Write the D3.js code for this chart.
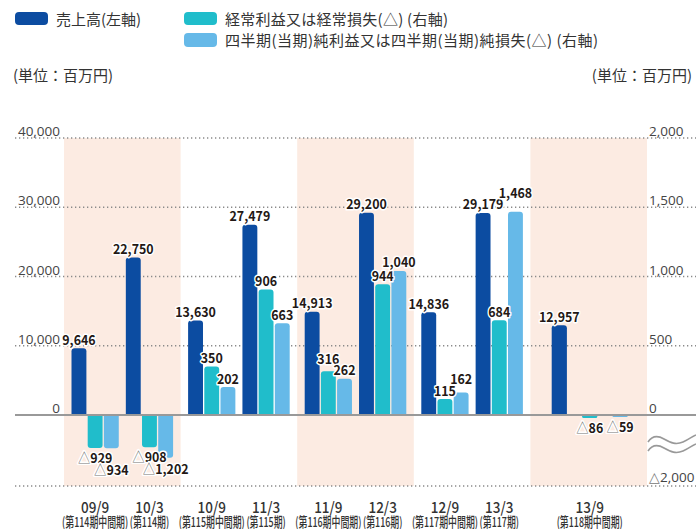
<!DOCTYPE html>
<html>
<head>
<meta charset="utf-8">
<script src="https://cdn.jsdelivr.net/npm/d3@7"></script>
<style>
  body { margin: 0; background: #fff; }
  svg { display: block; font-family: "Noto Sans CJK JP", "Noto Sans", sans-serif; }
</style>
</head>
<body>
<svg width="696" height="529"></svg>
<script>
// data
const periods = ['09/9', '10/3', '10/9', '11/3', '11/9', '12/3', '12/9', '13/3', '13/9']
const terms = ['(第114期中間期)', '(第114期)', '(第115期中間期)', '(第115期)', '(第116期中間期)', '(第116期)', '(第117期中間期)', '(第117期)', '(第118期中間期)']
const fiscalYears = ['114', '114', '115', '115', '116', '116', '117', '117', '118']
const halves = ['H1', 'H2', 'H1', 'H2', 'H1', 'H2', 'H1', 'H2', 'H1']
const shadedYears = ['114', '116', '118']
const sales = [9646, 22750, 13630, 27479, 14913, 29200, 14836, 29179, 12957]
const ordinary = [-929, -908, 350, 906, 316, 944, 115, 684, -86]
const net = [-934, -1202, 202, 663, 262, 1040, 162, 1468, -59]
const leftTicks = [0, 10000, 20000, 30000, 40000]
const rightTicks = [0, 500, 1000, 1500, 2000]
const rightMin = -2000
const seriesKeys = ['sales', 'ordinary', 'net']
const seriesNames = ['売上高(左軸)', '経常利益又は経常損失(△) (右軸)', '四半期(当期)純利益又は四半期(当期)純損失(△) (右軸)']
const colors = {sales: '#0c4ca1', ordinary: '#20bdcb', net: '#66b9e8'}

const svg = d3.select('svg')
const fmt = d3.format(',')
const gridL = 15, gridR = 696

const yL = d3.scaleLinear().domain([0, 40000]).range([415, 138])
const yR = d3.scaleLinear().domain([rightMin, 0, 2000]).range([486, 415, 138])

const x0 = d3.scaleBand().domain(['114', '115', '116', '117', '118']).range([64, 647])
const bw = x0.bandwidth()
const x1 = d3.scaleBand().domain(['H1', 'H2']).range([7.5, bw - 7.5]).paddingInner(0.13)
const x2 = d3.scaleBand().domain(seriesKeys).range([0, x1.bandwidth()]).paddingInner(0.08)
const xSingle = d3.scaleBand().domain(seriesKeys).range([bw / 2 - 37, bw / 2 + 39]).paddingInner(0.5)

const halfCount = {}
fiscalYears.forEach(function(f) { halfCount[f] = (halfCount[f] || 0) + 1 })

function barX(i, key) {
  const fy = fiscalYears[i]
  if (halfCount[fy] === 1) return x0(fy) + xSingle(key)
  return x0(fy) + x1(halves[i]) + x2(key)
}
function barW(i) {
  return halfCount[fiscalYears[i]] === 1 ? xSingle.bandwidth() : x2.bandwidth()
}
function groupCenter(i) {
  const fy = fiscalYears[i]
  if (halfCount[fy] === 1) return x0(fy) + (xSingle('sales') + xSingle('net') + xSingle.bandwidth()) / 2
  return x0(fy) + x1(halves[i]) + x1.bandwidth() / 2
}

// shaded fiscal years
svg.append('g').selectAll('rect').data(shadedYears).enter().append('rect')
  .attr('x', function(d) { return x0(d) })
  .attr('y', yL(40000))
  .attr('width', bw)
  .attr('height', yR(rightMin) - yL(40000))
  .attr('fill', '#fcebe2')

// dotted grid
const gridYs = leftTicks.filter(function(d) { return d > 0 }).map(function(d) { return yL(d) }).concat([yR(rightMin)])
svg.append('g').selectAll('line').data(gridYs).enter().append('line')
  .attr('x1', gridL).attr('x2', gridR)
  .attr('y1', function(d) { return d }).attr('y2', function(d) { return d })
  .attr('stroke', '#8a8a8a').attr('stroke-width', 1.3)
  .attr('stroke-dasharray', '1.3,2.7')

// bars (rounded far end)
function barPath(x, w, yBase, yEnd) {
  const r = Math.min(3, Math.abs(yEnd - yBase) / 2, w / 2)
  if (yEnd < yBase) {
    return 'M' + x + ',' + yBase + 'V' + (yEnd + r) + 'Q' + x + ',' + yEnd + ' ' + (x + r) + ',' + yEnd +
      'H' + (x + w - r) + 'Q' + (x + w) + ',' + yEnd + ' ' + (x + w) + ',' + (yEnd + r) + 'V' + yBase + 'Z'
  }
  return 'M' + x + ',' + yBase + 'V' + (yEnd - r) + 'Q' + x + ',' + yEnd + ' ' + (x + r) + ',' + yEnd +
    'H' + (x + w - r) + 'Q' + (x + w) + ',' + yEnd + ' ' + (x + w) + ',' + (yEnd - r) + 'V' + yBase + 'Z'
}

const bars = []
periods.forEach(function(p, i) {
  bars.push({i: i, key: 'sales', v: sales[i], y: yL(sales[i]), y0: yL(0)})
  bars.push({i: i, key: 'ordinary', v: ordinary[i], y: yR(ordinary[i]), y0: yR(0)})
  bars.push({i: i, key: 'net', v: net[i], y: yR(net[i]), y0: yR(0)})
})

svg.append('g').selectAll('path').data(bars).enter().append('path')
  .attr('d', function(d) { return barPath(barX(d.i, d.key), barW(d.i), d.y0, d.y) })
  .attr('fill', function(d) { return colors[d.key] })

// zero line
svg.append('line')
  .attr('x1', gridL).attr('x2', gridR)
  .attr('y1', yL(0)).attr('y2', yL(0))
  .attr('stroke', '#999').attr('stroke-width', 2)

// axis labels
svg.append('g').selectAll('text').data(leftTicks).enter().append('text')
  .attr('x', 60).attr('y', function(d) { return yL(d) - 2 })
  .attr('text-anchor', 'end')
  .attr('font-family', 'Open Sans, sans-serif').attr('font-size', 13.5)
  .attr('fill', '#444')
  .text(function(d) { return fmt(d) })

svg.append('g').selectAll('text').data(rightTicks).enter().append('text')
  .attr('x', 649).attr('y', function(d) { return yR(d) - 2 })
  .attr('font-family', 'Open Sans, sans-serif').attr('font-size', 13.5)
  .attr('fill', '#444')
  .text(function(d) { return fmt(d) })

const minLabel = svg.append('text')
  .attr('x', 649).attr('y', yR(rightMin) - 4)
  .attr('font-family', 'Open Sans, sans-serif').attr('font-size', 13.5)
  .attr('fill', '#444')
minLabel.append('tspan').attr('fill', '#777').text('△')
minLabel.append('tspan').text(fmt(-rightMin))

// axis break
const wave = 'c 4,-6 9,-7 16,-3 s 12,6 19,3 s 8,-5 13,-7'
svg.append('g').selectAll('path').data([438, 447]).enter().append('path')
  .attr('d', function(d) { return 'M648,' + (d + 4) + wave })
  .attr('fill', 'none').attr('stroke', '#999').attr('stroke-width', 1.6)

// unit labels
svg.append('text').attr('x', 13).attr('y', 81).attr('font-size', 15).attr('fill', '#333').text('(単位：百万円)')
svg.append('text').attr('x', 692).attr('y', 81).attr('text-anchor', 'end').attr('font-size', 15).attr('fill', '#333').text('(単位：百万円)')

// legend
const legendPos = [[15, 12, 13], [184, 12, 13], [184, 33, 14]]
const legendLen = [85, 223, 373]
const legend = svg.append('g').selectAll('g').data(seriesKeys).enter().append('g')
legend.append('rect')
  .attr('x', function(d, i) { return legendPos[i][0] })
  .attr('y', function(d, i) { return legendPos[i][1] })
  .attr('width', 33)
  .attr('height', function(d, i) { return legendPos[i][2] })
  .attr('rx', 4)
  .attr('fill', function(d) { return colors[d] })
legend.append('text')
  .attr('x', function(d, i) { return legendPos[i][0] + 41 })
  .attr('y', function(d, i) { return legendPos[i][1] + 13 })
  .attr('font-size', 15).attr('fill', '#333')
  .attr('textLength', function(d, i) { return legendLen[i] })
  .text(function(d, i) { return seriesNames[i] })

// x labels
const xl = svg.append('g').selectAll('g').data(periods).enter().append('g')
xl.append('text')
  .attr('transform', function(d, i) { return 'translate(' + groupCenter(i) + ',512.5) scale(0.9,1)' })
  .attr('text-anchor', 'middle').attr('font-size', 15).attr('font-weight', 500).attr('fill', '#333')
  .text(function(d) { return d })
xl.append('text')
  .attr('transform', function(d, i) { return 'translate(' + groupCenter(i) + ',526.5) scale(0.66,1)' })
  .attr('text-anchor', 'middle').attr('font-size', 13.5).attr('font-weight', 500).attr('fill', '#333')
  .text(function(d, i) { return terms[i] })

// value labels
const sx = 0.92
const labelG = svg.append('g')
const labels = bars.map(function(d) {
  const cx = barX(d.i, d.key) + barW(d.i) / 2
  const t = labelG.append('text')
    .attr('text-anchor', 'middle').attr('font-size', 13.5).attr('font-weight', 700)
    .attr('fill', '#231815').attr('stroke', '#fff').attr('stroke-width', 3)
    .attr('stroke-linejoin', 'round').attr('paint-order', 'stroke')
  if (d.v < 0) {
    t.append('tspan').attr('font-weight', 400).attr('fill', '#777').text('△')
  }
  t.append('tspan').text(fmt(Math.abs(d.v)))
  const w = t.node().getBBox().width * sx
  const by = d.v < 0 ? d.y + 15 : d.y - 3.5
  return {t: t, cx: cx, w: w, by: by, neg: d.v < 0, i: d.i}
})
// nudge overlapping labels inside each group
periods.forEach(function(p, i) {
  const pos = labels.filter(function(l) { return l.i === i && !l.neg }).sort(function(a, b) { return b.by - a.by })
  pos.forEach(function(l, k) {
    pos.slice(0, k).forEach(function(o) {
      if (Math.abs(o.cx - l.cx) < (o.w + l.w) / 2 && o.by - l.by < 11.5) l.by = o.by - 11.5
    })
  })
  const neg = labels.filter(function(l) { return l.i === i && l.neg }).sort(function(a, b) { return a.cx - b.cx })
  neg.forEach(function(l, k) {
    neg.slice(0, k).forEach(function(o) {
      if (Math.abs(o.cx - l.cx) < (o.w + l.w) / 2 && l.by - o.by < 12) l.by = o.by + 12
    })
  })
})
labels.forEach(function(l) {
  l.t.attr('transform', 'translate(' + l.cx + ',' + l.by + ') scale(' + sx + ',1)')
})
</script>
</body>
</html>
